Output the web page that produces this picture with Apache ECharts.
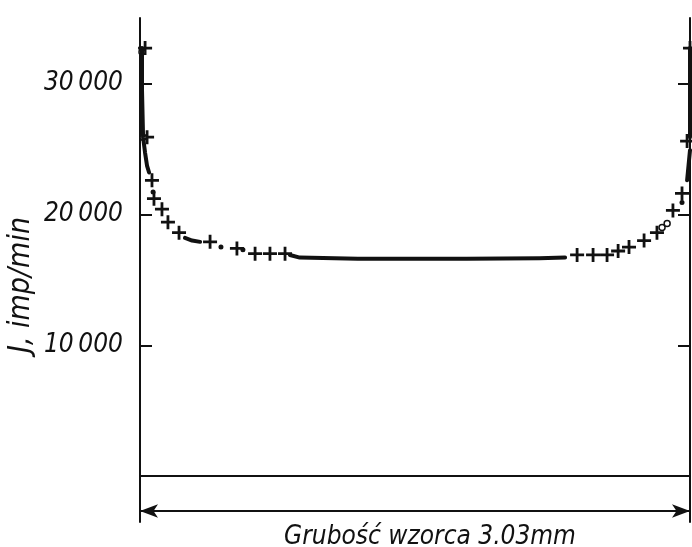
<!DOCTYPE html>
<html>
<head>
<meta charset="utf-8">
<script src="https://cdn.jsdelivr.net/npm/echarts@6/dist/echarts.min.js"></script>
<style>
  html, body { margin: 0; padding: 0; background: #fff; }
  #chart { width: 692px; height: 547px; }
</style>
</head>
<body>
<div id="chart"></div>
<script>
// dense measurement runs (drawn as thick strokes), null = gap
const denseX = [0.011, 0.011, 0.017, 0.028, 0.039, 0.05, null, 0.248, 0.287, 0.331, null, 0.826, 0.88, 1.2, 1.8, 2.2, 2.342, null, 3.014, 3.03, null, 3.03, 3.03];
const denseJ = [32700, 29500, 25900, 24700, 23700, 23200, null, 18200, 18000, 17900, null, 16900, 16700, 16600, 16600, 16650, 16700, null, 22600, 24900, null, 25900, 32700];

// single points marked "+"
const plusX = [0.028, 0.039, 0.066, 0.077, 0.121, 0.154, 0.215, 0.386, 0.534, 0.634, 0.716, 0.799, 2.408, 2.496, 2.573, 2.634, 2.694, 2.777, 2.848, 2.936, 2.986, 3.014, 3.03];
const plusJ = [32700, 25900, 22600, 21200, 20400, 19400, 18600, 17900, 17400, 17000, 17000, 17000, 16900, 16900, 16900, 17200, 17500, 18000, 18600, 20300, 21600, 25600, 32700];

// open circles
const circX = [0.011, 0.017, 2.876, 2.904];
const circJ = [32400, 25900, 19000, 19300];

// small blobs
const dotX = [0.072, 0.446, 0.567, 2.986];
const dotJ = [21700, 17500, 17300, 20900];

const yTicks = [10000, 20000, 30000];
const thickness = 3.03; // mm
const dimJ = -2660;     // level of the dimension arrow

const ink = '#111';
const font = '"DejaVu Sans Condensed", "Liberation Sans Narrow", sans-serif';
const plusPath = 'path://M0,4H4V0H6V4H10V6H6V10H4V6H0Z';

const pairs = (xs, ys) => xs.map((x, i) => (x === null ? '-' : [x, ys[i]]));

const chart = echarts.init(document.getElementById('chart'));

const yAxisBase = {
  type: 'value',
  min: -3500,
  max: 35000,
  splitLine: { show: false },
  axisLine: { show: true, lineStyle: { color: ink, width: 2 } },
  axisTick: { show: true, inside: true, length: 12, customValues: yTicks, lineStyle: { color: ink, width: 2 } },
};

const textStyle = { fill: ink, fontStyle: 'italic', fontFamily: font, align: 'center', verticalAlign: 'middle' };

const option = {
  backgroundColor: '#fff',
  animation: false,
  grid: { left: 140, right: 2, top: 18, bottom: 25, containLabel: false, outerBoundsMode: 'none' },
  xAxis: {
    type: 'value',
    min: 0,
    max: thickness,
    axisLine: { onZero: true, lineStyle: { color: ink, width: 2 } },
    axisTick: { show: false },
    axisLabel: { show: false },
    splitLine: { show: false },
  },
  yAxis: [
    Object.assign({}, yAxisBase, {
      position: 'left',
      axisLabel: {
        customValues: yTicks,
        margin: 17,
        color: ink,
        fontSize: 26,
        fontStyle: 'italic',
        fontFamily: font,
        formatter: (v) => String(v / 1000) + '\u2009000',
      },
    }),
    Object.assign({}, yAxisBase, {
      position: 'right',
      axisLabel: { show: false },
    }),
  ],
  graphic: [
    {
      type: 'text',
      x: 21,
      y: 285,
      rotation: Math.PI / 2,
      style: Object.assign({ text: 'J, imp/min', fontSize: 30 }, textStyle),
    },
    {
      type: 'text',
      x: 430,
      y: 537,
      style: Object.assign({ text: 'Grubość wzorca 3.03mm', fontSize: 26 }, textStyle),
    },
  ],
  series: [
    {
      type: 'line',
      data: pairs(denseX, denseJ),
      showSymbol: false,
      connectNulls: false,
      lineStyle: { color: ink, width: 4, cap: 'round', join: 'round' },
      markLine: {
        silent: true,
        symbol: ['arrow', 'arrow'],
        symbolSize: [10, 18],
        label: { show: false },
        lineStyle: { color: ink, width: 2, type: 'solid' },
        data: [[{ coord: [0, dimJ] }, { coord: [thickness, dimJ] }]],
      },
    },
    {
      type: 'scatter',
      data: pairs(plusX, plusJ),
      symbol: plusPath,
      symbolSize: 14,
      itemStyle: { color: ink, opacity: 1 },
    },
    {
      type: 'scatter',
      data: pairs(circX, circJ),
      symbol: 'circle',
      symbolSize: 6,
      itemStyle: { color: '#fff', borderColor: ink, borderWidth: 1.5, opacity: 1 },
    },
    {
      type: 'scatter',
      data: pairs(dotX, dotJ),
      symbol: 'circle',
      symbolSize: 5,
      itemStyle: { color: ink, opacity: 1 },
    },
  ],
};

chart.setOption(option);
</script>
</body>
</html>
